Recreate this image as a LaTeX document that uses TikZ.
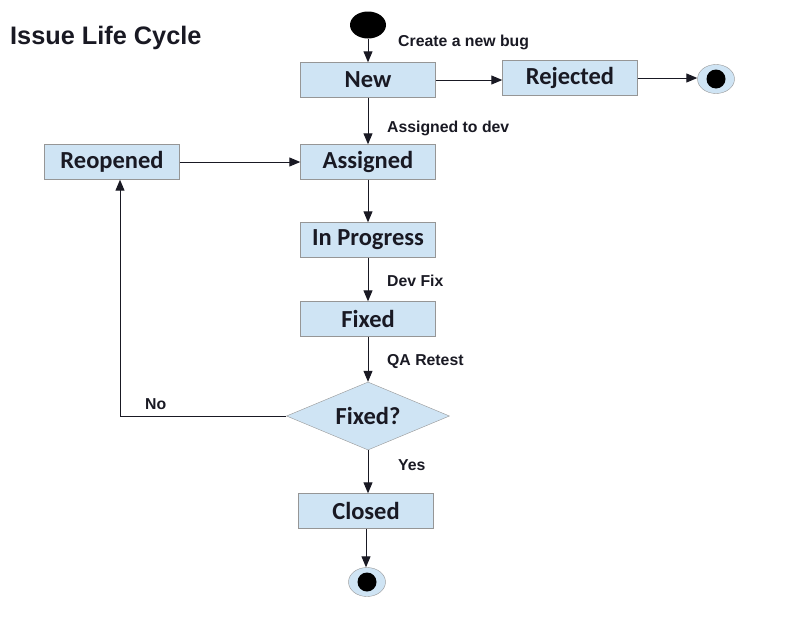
\documentclass[tikz,border=0pt]{standalone}
\usepackage{fontspec}
\setmainfont{Liberation Sans}
\newfontfamily\boxfont{Carlito}
\usetikzlibrary{shapes.geometric,arrows.meta}

\definecolor{boxblue}{RGB}{207,228,244}
\definecolor{boxline}{RGB}{150,150,150}
\definecolor{ink}{RGB}{25,25,35}

\tikzset{
	stbox/.style={draw=boxline,fill=boxblue,minimum width=135pt,minimum height=35pt,inner sep=0pt,
		font=\boxfont\bfseries\fontsize{24.5}{24.5}\selectfont,text=ink},
	chkbox/.style={stbox,diamond,aspect=2.4,minimum width=163pt,minimum height=68pt},
	startpt/.style={ellipse,fill=black,minimum width=36pt,minimum height=27pt,inner sep=0pt},
	endpt/.style={ellipse,draw=boxline,fill=boxblue,minimum width=37pt,minimum height=29pt,inner sep=0pt,
		path picture={\fill[black] (path picture bounding box.center) circle (9.5pt);}},
	flow/.style={draw=ink,line width=1pt,-{Triangle[length=11pt,width=9pt]}},
	lbl/.style={anchor=west,inner sep=0pt,font=\bfseries\fontsize{15.8}{15.8}\selectfont,text=ink}
}

\begin{document}
\begin{tikzpicture}[x=1pt,y=-1pt]
	\useasboundingbox (0,0) rectangle (797,616);
	\node[anchor=west,inner sep=0pt,font=\bfseries\fontsize{25.3}{25.3}\selectfont,text=ink] (title) at (10,38) {Issue Life Cycle};
	%
	\node[startpt] (start) at (368,25) {};
	\node[stbox] (new) at (368,80) {New};
	\node[stbox] (rej) at (570,78) {Rejected};
	\node[endpt] (endr) at (716,79) {};
	\node[stbox] (asg) at (368,162) {Assigned};
	\node[stbox] (reo) at (112,162) {Reopened};
	\node[stbox] (prog) at (368,240) {In Progress};
	\node[stbox] (fix) at (368,319) {Fixed};
	\node[chkbox] (chk) at (368,416) {Fixed?};
	\node[stbox] (clo) at (366,511) {Closed};
	\node[endpt] (endb) at (367,582) {};
	%
	\draw[flow] (start) -- (new);
	\draw[flow] (new) -- (new -| rej.west);
	\draw[flow] (rej) -- (rej -| endr.west);
	\draw[flow] (new) -- (asg);
	\draw[flow] (reo) -- (asg);
	\draw[flow] (asg) -- (prog);
	\draw[flow] (prog) -- (fix);
	\draw[flow] (fix) -- (chk);
	\draw[flow] (chk) -- (chk |- clo.north);
	\draw[flow] (clo) -- (clo |- endb.north);
	\draw[flow] (chk.west) -| ([xshift=8pt]reo.south);
	%
	\node[lbl] (l1) at (398,42) {Create a new bug};
	\node[lbl] (l2) at (387,128) {Assigned to dev};
	\node[lbl] (l3) at (387,281) {Dev Fix};
	\node[lbl] (l4) at (387,362) {QA Retest};
	\node[lbl] (l5) at (398,465) {Yes};
	\node[lbl] (l6) at (145,404) {No};
\end{tikzpicture}
\end{document}
